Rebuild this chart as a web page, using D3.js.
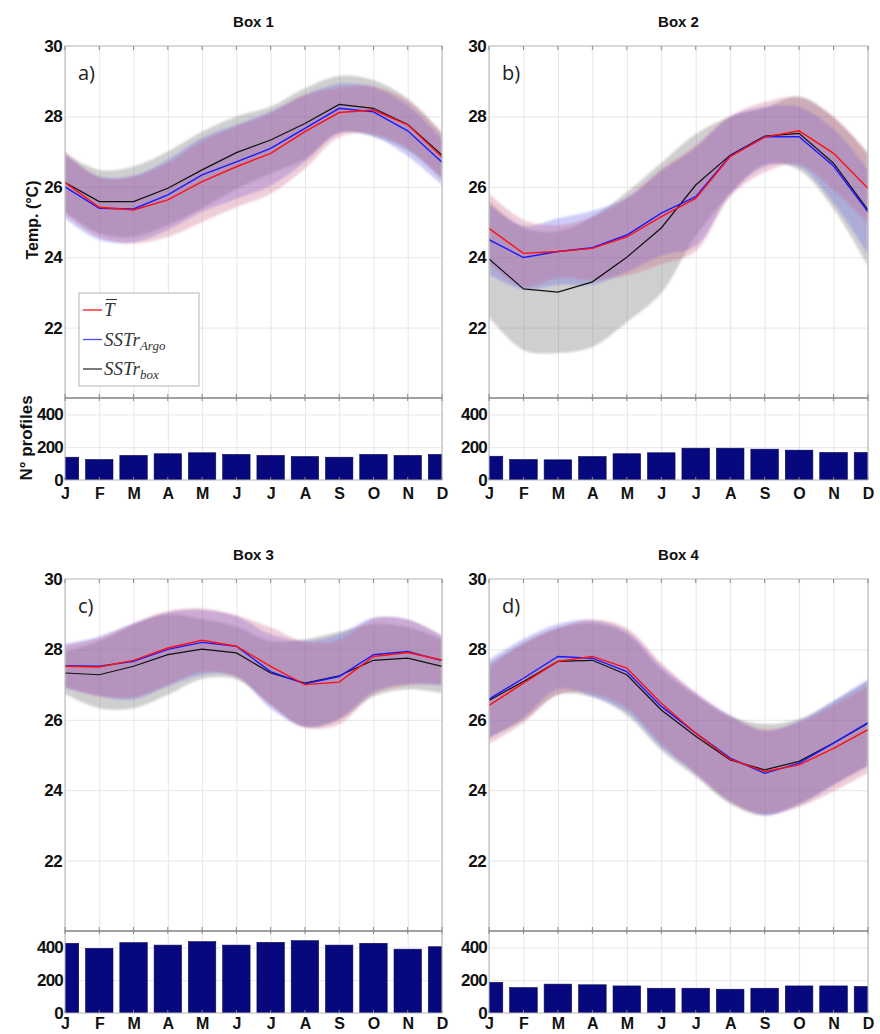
<!DOCTYPE html>
<html><head><meta charset="utf-8">
<script src="https://cdn.jsdelivr.net/npm/d3@7"></script>
<style>body{margin:0;background:#fff} svg{display:block}</style>
</head><body>
<svg id="chart" width="880" height="1034"></svg>
<script>
// ---------------- DATA ----------------
const months = ["J","F","M","A","M","J","J","A","S","O","N","D"];
const tempTicks = [22, 24, 26, 28, 30];
const countTicks = [0, 200, 400];
const boxTitles = ["Box 1", "Box 2", "Box 3", "Box 4"];
const panelLetters = ["a)", "b)", "c)", "d)"];
const seriesNames = ["T", "SSTr_Argo", "SSTr_box"];

// Box 1
const box1T       = [26.12,25.42,25.34,25.63,26.15,26.57,26.95,27.57,28.11,28.18,27.76,26.85];
const box1TSd     = [0.90,0.85,0.95,1.05,1.15,1.15,1.15,1.05,0.70,0.68,0.68,0.65];
const box1Argo    = [26.00,25.39,25.37,25.77,26.34,26.71,27.09,27.66,28.23,28.13,27.59,26.70];
const box1ArgoSd  = [0.90,0.90,0.95,1.00,1.05,1.05,1.05,0.95,0.70,0.70,0.72,0.65];
const box1Box     = [26.12,25.58,25.58,25.96,26.48,26.97,27.33,27.80,28.34,28.23,27.77,26.90];
const box1BoxSd   = [0.83,0.90,1.00,1.04,1.09,1.03,0.95,1.00,0.81,0.80,0.74,0.65];
const box1N       = [139,125,150,160,166,156,150,143,139,156,150,156];

// Box 2
const box2T       = [24.82,24.11,24.16,24.25,24.58,25.15,25.67,26.86,27.41,27.59,26.95,25.96];
const box2TSd     = [1.00,0.95,0.75,0.90,1.10,1.35,1.50,1.15,1.00,0.95,1.05,1.00];
const box2Argo    = [24.50,23.99,24.16,24.27,24.63,25.25,25.72,26.88,27.42,27.42,26.59,25.29];
const box2ArgoSd  = [1.00,0.90,0.95,1.05,1.05,1.20,1.40,1.10,0.85,0.85,1.05,1.20];
const box2Box     = [23.95,23.10,23.01,23.30,24.00,24.83,26.05,26.90,27.44,27.52,26.67,25.34];
const box2BoxSd   = [1.65,1.74,1.73,1.85,1.85,1.85,1.45,1.10,0.80,1.05,1.30,1.60];
const box2N       = [145,125,123,143,160,166,194,194,188,182,168,168];

// Box 3
const box3T       = [27.52,27.50,27.69,28.04,28.26,28.09,27.52,27.00,27.07,27.80,27.91,27.70];
const box3TSd     = [0.60,0.83,1.05,1.05,0.90,0.88,1.10,1.22,1.20,1.08,0.93,0.70];
const box3Argo    = [27.54,27.52,27.66,28.00,28.20,28.09,27.37,27.02,27.23,27.85,27.94,27.68];
const box3ArgoSd  = [0.62,0.85,1.08,1.05,0.92,0.85,1.05,1.22,1.20,1.05,0.92,0.70];
const box3Box     = [27.33,27.28,27.52,27.85,28.01,27.90,27.33,27.04,27.25,27.69,27.75,27.52];
const box3BoxSd   = [0.60,0.95,1.19,1.14,0.85,0.75,0.90,1.25,1.25,1.03,0.88,0.76];
const box3N       = [425,394,429,414,435,414,431,441,414,425,389,404];

// Box 4
const box4T       = [26.41,27.04,27.66,27.80,27.47,26.47,25.62,24.88,24.53,24.72,25.19,25.72];
const box4TSd     = [1.10,1.13,0.95,1.05,1.13,1.15,1.15,1.22,1.20,1.20,1.22,1.23];
const box4Argo    = [26.59,27.18,27.80,27.75,27.37,26.38,25.62,24.91,24.48,24.77,25.34,25.92];
const box4ArgoSd  = [1.12,1.12,0.92,1.08,1.15,1.15,1.15,1.22,1.20,1.20,1.20,1.23];
const box4Box     = [26.55,27.09,27.66,27.69,27.28,26.28,25.53,24.86,24.58,24.82,25.34,25.90];
const box4BoxSd   = [1.05,1.10,0.95,1.05,1.15,1.15,1.15,1.25,1.30,1.20,1.18,1.20];
const box4N       = [187,155,176,172,165,151,151,145,151,165,165,162];

// ---------------- LAYOUT ----------------
const TEMP_H = 352, BAR_H = 82;
const panels = [
  {x0:65,  x1:442, y0:46,  T:box1T, TSd:box1TSd, A:box1Argo, ASd:box1ArgoSd, B:box1Box, BSd:box1BoxSd, N:box1N, axisTitles:true, legend:true},
  {x0:489, x1:868, y0:46,  T:box2T, TSd:box2TSd, A:box2Argo, ASd:box2ArgoSd, B:box2Box, BSd:box2BoxSd, N:box2N},
  {x0:65,  x1:442, y0:579, T:box3T, TSd:box3TSd, A:box3Argo, ASd:box3ArgoSd, B:box3Box, BSd:box3BoxSd, N:box3N},
  {x0:489, x1:868, y0:579, T:box4T, TSd:box4TSd, A:box4Argo, ASd:box4ArgoSd, B:box4Box, BSd:box4BoxSd, N:box4N}
];
const SANS = "'Liberation Sans', Arial, Helvetica, sans-serif";
const colRed = "#ff1010", colBlue = "#1a1aff", colBlack = "#111";
const bandGray = "#6e6e6e", bandBlue = "#6464e6", bandRed = "#c85a82";

const svg = d3.select("#chart");
const defs = svg.append("defs");
defs.append("filter").attr("id","soft").append("feGaussianBlur").attr("stdDeviation",0.8);

panels.forEach((p, i) => {
  const g = svg.append("g");
  const W = p.x1 - p.x0;
  const x = d3.scalePoint().domain(d3.range(12)).range([p.x0, p.x1]);
  const yT = d3.scaleLinear().domain([20, 30]).range([p.y0 + TEMP_H, p.y0]);
  const yN = d3.scaleLinear().domain([0, 500]).range([p.y0 + TEMP_H + BAR_H, p.y0 + TEMP_H]);

  defs.append("clipPath").attr("id", "ct" + i).append("rect")
    .attr("x", p.x0).attr("y", p.y0).attr("width", W).attr("height", TEMP_H);
  defs.append("clipPath").attr("id", "cb" + i).append("rect")
    .attr("x", p.x0).attr("y", p.y0 + TEMP_H).attr("width", W).attr("height", BAR_H);

  // vertical grid (month positions)
  g.append("g").attr("transform", `translate(0,${p.y0 + TEMP_H + BAR_H})`)
    .call(d3.axisBottom(x).tickSize(-(TEMP_H + BAR_H)).tickFormat(""))
    .call(s => { s.select(".domain").remove(); s.selectAll("line").attr("stroke", "#e6e6e6"); });
  // horizontal grid temp
  g.append("g").attr("transform", `translate(${p.x0},0)`)
    .call(d3.axisLeft(yT).tickValues([22, 24, 26, 28]).tickSize(-W).tickFormat(""))
    .call(s => { s.select(".domain").remove(); s.selectAll("line").attr("stroke", "#e6e6e6"); });
  // horizontal grid counts
  g.append("g").attr("transform", `translate(${p.x0},0)`)
    .call(d3.axisLeft(yN).tickValues([200, 400]).tickSize(-W).tickFormat(""))
    .call(s => { s.select(".domain").remove(); s.selectAll("line").attr("stroke", "#e6e6e6"); });

  // bands
  const bands = g.append("g").attr("clip-path", `url(#ct${i})`).attr("filter", "url(#soft)");
  const area = (m, sd) => d3.area().curve(d3.curveCatmullRom.alpha(0.5))
    .x((d, k) => x(k)).y0((d, k) => yT(m[k] - sd[k])).y1((d, k) => yT(m[k] + sd[k]))(m);
  bands.append("path").attr("d", area(p.B, p.BSd)).attr("fill", bandGray).attr("fill-opacity", 0.32);
  bands.append("path").attr("d", area(p.A, p.ASd)).attr("fill", bandBlue).attr("fill-opacity", 0.33);
  bands.append("path").attr("d", area(p.T, p.TSd)).attr("fill", bandRed).attr("fill-opacity", 0.3);

  // lines
  const lines = g.append("g").attr("clip-path", `url(#ct${i})`);
  const line = d3.line().x((d, k) => x(k)).y(d => yT(d));
  lines.append("path").attr("d", line(p.B)).attr("fill", "none").attr("stroke", colBlack).attr("stroke-width", 1.2);
  lines.append("path").attr("d", line(p.A)).attr("fill", "none").attr("stroke", colBlue).attr("stroke-width", 1.4);
  lines.append("path").attr("d", line(p.T)).attr("fill", "none").attr("stroke", colRed).attr("stroke-width", 1.4);

  // bars
  const bw = x.step() * 0.8;
  g.append("g").attr("clip-path", `url(#cb${i})`).selectAll("rect").data(p.N).join("rect")
    .attr("x", (d, k) => x(k) - bw / 2).attr("width", bw)
    .attr("y", d => yN(d)).attr("height", d => yN(0) - yN(d))
    .attr("fill", "#07077e").attr("stroke", "#0a0a50").attr("stroke-width", 0.6);

  // frames
  g.append("rect").attr("x", p.x0).attr("y", p.y0).attr("width", W).attr("height", TEMP_H)
    .attr("fill", "none").attr("stroke", "#b4b4b4").attr("stroke-width", 1);
  g.append("rect").attr("x", p.x0).attr("y", p.y0 + TEMP_H).attr("width", W).attr("height", BAR_H)
    .attr("fill", "none").attr("stroke", "#b4b4b4").attr("stroke-width", 1);
  g.append("line").attr("x1", p.x0).attr("x2", p.x1).attr("y1", p.y0 + TEMP_H).attr("y2", p.y0 + TEMP_H)
    .attr("stroke", "#7a7a7a").attr("stroke-width", 1.2);

  // small month ticks
  const tk = g.append("g").attr("stroke", "#8a8a8a").attr("stroke-width", 1);
  d3.range(12).forEach(k => {
    [[p.y0, 4], [p.y0 + TEMP_H, -4], [p.y0 + TEMP_H, 3], [p.y0 + TEMP_H + BAR_H, -3]].forEach(([yy, l]) => {
      tk.append("line").attr("x1", x(k)).attr("x2", x(k)).attr("y1", yy).attr("y2", yy + l);
    });
  });

  // y axis labels temp
  g.append("g").attr("transform", `translate(${p.x0},0)`)
    .call(d3.axisLeft(yT).tickValues(tempTicks).tickSize(0).tickPadding(3))
    .call(s => {
      s.select(".domain").remove();
      s.selectAll("text").attr("font-family", SANS).attr("font-weight", "bold").attr("font-size", 17)
        .attr("fill", "#111").attr("letter-spacing", -0.6);
    });
  // y axis labels counts
  g.append("g").attr("transform", `translate(${p.x0},0)`)
    .call(d3.axisLeft(yN).tickValues(countTicks).tickSize(0).tickPadding(2))
    .call(s => {
      s.select(".domain").remove();
      s.selectAll("text").attr("font-family", SANS).attr("font-weight", "bold").attr("font-size", 17)
        .attr("fill", "#111").attr("letter-spacing", -0.8);
    });
  // month labels
  g.append("g").attr("transform", `translate(0,${p.y0 + TEMP_H + BAR_H})`)
    .call(d3.axisBottom(x).tickSize(0).tickPadding(i < 2 ? 8 : 5).tickFormat(k => months[k]))
    .call(s => {
      s.select(".domain").remove();
      s.selectAll("text").attr("font-family", SANS).attr("font-weight", "bold").attr("font-size", 16)
        .attr("fill", "#111");
    });

  // title
  g.append("text").attr("x", (p.x0 + p.x1) / 2).attr("y", p.y0 - 19).attr("text-anchor", "middle")
    .attr("font-family", SANS).attr("font-weight", "bold").attr("font-size", 15).attr("fill", "#111")
    .text(boxTitles[i]);
  // panel letter
  g.append("text").attr("x", p.x0 + 13).attr("y", p.y0 + 34)
    .attr("font-family", "'Open Sans', 'DejaVu Sans', sans-serif").attr("font-size", 20).attr("fill", "#222")
    .text(panelLetters[i]);

  if (p.axisTitles) {
    svg.append("text").attr("transform", `translate(38,${p.y0 + 174}) rotate(-90)`).attr("text-anchor", "middle")
      .attr("font-family", SANS).attr("font-weight", "bold").attr("font-size", 16).attr("fill", "#111")
      .text("Temp. (°C)");
    svg.append("text").attr("transform", `translate(32,${p.y0 + TEMP_H + 40}) rotate(-90)`).attr("text-anchor", "middle")
      .attr("font-family", SANS).attr("font-weight", "bold").attr("font-size", 17).attr("fill", "#111")
      .text("N° profiles");
  }

  if (p.legend) {
    const lg = svg.append("g");
    const lx = 79, ly = 293;
    lg.append("rect").attr("x", lx).attr("y", ly).attr("width", 120).attr("height", 93)
      .attr("fill", "#fff").attr("stroke", "#b4b4b4");
    const items = [
      {c: colRed, main: "T", sub: null, over: true},
      {c: "#4a4aff", main: "SSTr", sub: "Argo"},
      {c: "#333", main: "SSTr", sub: "box"}
    ];
    items.forEach((it, k) => {
      const yy = ly + 17 + k * 29.5;
      lg.append("line").attr("x1", lx + 4).attr("x2", lx + 23).attr("y1", yy).attr("y2", yy)
        .attr("stroke", it.c).attr("stroke-width", 1.3);
      const t = lg.append("text").attr("x", lx + 25).attr("y", yy + 6)
        .attr("font-family", "'Liberation Serif', 'Times New Roman', serif").attr("font-style", "italic")
        .attr("font-size", 19).attr("fill", "#333");
      t.append("tspan").text(it.main);
      if (it.sub) t.append("tspan").attr("dy", 4).attr("font-size", 13).text(it.sub);
      if (it.over) {
        lg.append("line").attr("x1", lx + 27).attr("x2", lx + 38).attr("y1", yy - 10.5).attr("y2", yy - 10.5)
          .attr("stroke", "#333").attr("stroke-width", 1);
      }
    });
  }
});
</script>
</body></html>
